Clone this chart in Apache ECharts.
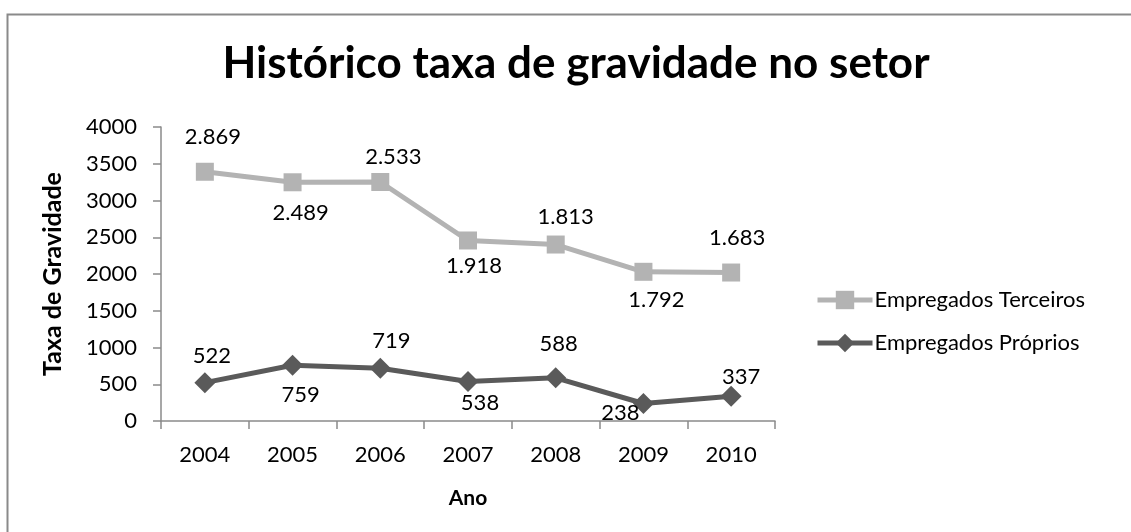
<!DOCTYPE html>
<html>
<head>
<meta charset="utf-8">
<script src="https://cdn.jsdelivr.net/npm/echarts@6/dist/echarts.min.js"></script>
<style>
html,body{margin:0;padding:0;background:#fff;}
#chart{width:1131px;height:532px;}
</style>
</head>
<body>
<div id="chart"></div>
<script>
// ---- data ----
const years = ['2004','2005','2006','2007','2008','2009','2010'];
const terceiros = [2869, 2489, 2533, 1918, 1813, 1792, 1683];
const proprios = [522, 759, 719, 538, 588, 238, 337];
const yTicks = [0, 500, 1000, 1500, 2000, 2500, 3000, 3500, 4000];

// ---- layout (label offsets relative to markers) ----
const terceirosLabelOffsets = [[8,-35],[8,31],[13,-25],[6,25],[10,-28],[13,28],[6,-35]];
const propriosLabelOffsets = [[7,-27],[8,30],[11,-27],[12,21],[3,-34],[-23,9],[10,-19]];

const FONT = 'Lato';
function fmt(v){
  const s = String(Math.round(v));
  return s.replace(/\B(?=(\d{3})+(?!\d))/g, '.');
}
function withLabels(values, offsets){
  return values.map((v,i)=>({
    value: v,
    label: { show: true, position: 'inside', offset: offsets[i] }
  }));
}

const chart = echarts.init(document.getElementById('chart'), null, {renderer:'canvas'});
chart.setOption({
  animation: false,
  backgroundColor: '#fff',
  graphic: [{
    type: 'rect',
    shape: { x: 7.5, y: 14.5, width: 1140, height: 540 },
    style: { fill: 'none', stroke: '#8a8a8a', lineWidth: 2 },
    silent: true
  }],
  title: {
    text: 'Histórico taxa de gravidade no setor',
    left: 571, top: 37, textAlign: 'center',
    textStyle: { fontFamily: FONT, fontWeight: 'bold', fontSize: 44, color: '#000' }
  },
  legend: {
    orient: 'vertical',
    left: 810, top: 284,
    itemWidth: 55, itemHeight: 23, itemGap: 21,
    data: ['Empregados Terceiros', 'Empregados Próprios'],
    lineStyle: { width: 5 },
    textStyle: { fontFamily: FONT, fontSize: 22, color: '#000', padding: [0,0,0,-3] }
  },
  grid: { left: 161, right: 356, top: 127, bottom: 111, containLabel: false },
  xAxis: {
    type: 'category',
    data: years,
    boundaryGap: true,
    name: 'Ano',
    nameLocation: 'middle',
    nameGap: 67,
    nameTextStyle: { fontFamily: FONT, fontWeight: 'bold', fontSize: 21, color: '#000' },
    axisLine: { lineStyle: { color: '#8a8a8a', width: 1.5 } },
    axisTick: { show: true, length: 8, alignWithLabel: false, lineStyle: { color: '#8a8a8a', width: 1.5 } },
    axisLabel: { fontFamily: FONT, fontSize: 22, color: '#000', margin: 23 },
    splitLine: { show: false }
  },
  yAxis: {
    type: 'value',
    min: yTicks[0], max: yTicks[yTicks.length-1], interval: yTicks[1]-yTicks[0],
    name: 'Taxa de Gravidade',
    nameLocation: 'middle',
    nameGap: 96,
    nameTextStyle: { fontFamily: FONT, fontWeight: 'bold', fontSize: 25, color: '#000' },
    axisLine: { show: true, lineStyle: { color: '#8a8a8a', width: 1.5 } },
    axisTick: { show: true, length: 8, inside: false, lineStyle: { color: '#8a8a8a', width: 1.5 } },
    axisLabel: { fontFamily: FONT, fontSize: 22, color: '#000', margin: 24, formatter: v => String(v) },
    splitLine: { show: false }
  },
  series: [
    {
      name: 'Empregados Próprios',
      type: 'line',
      stack: 'total',
      data: withLabels(proprios, propriosLabelOffsets),
      symbol: 'diamond', symbolSize: 21,
      lineStyle: { color: '#5a5a5a', width: 5 },
      itemStyle: { color: '#5a5a5a' },
      label: { fontFamily: FONT, fontSize: 22, color: '#000', formatter: p => fmt(p.value) },
      z: 3
    },
    {
      name: 'Empregados Terceiros',
      type: 'line',
      stack: 'total',
      data: withLabels(terceiros, terceirosLabelOffsets),
      symbol: 'rect', symbolSize: 18,
      lineStyle: { color: '#b3b3b3', width: 5 },
      itemStyle: { color: '#b3b3b3' },
      label: { fontFamily: FONT, fontSize: 22, color: '#000', formatter: p => fmt(p.value) },
      z: 2
    }
  ]
});
</script>
</body>
</html>
